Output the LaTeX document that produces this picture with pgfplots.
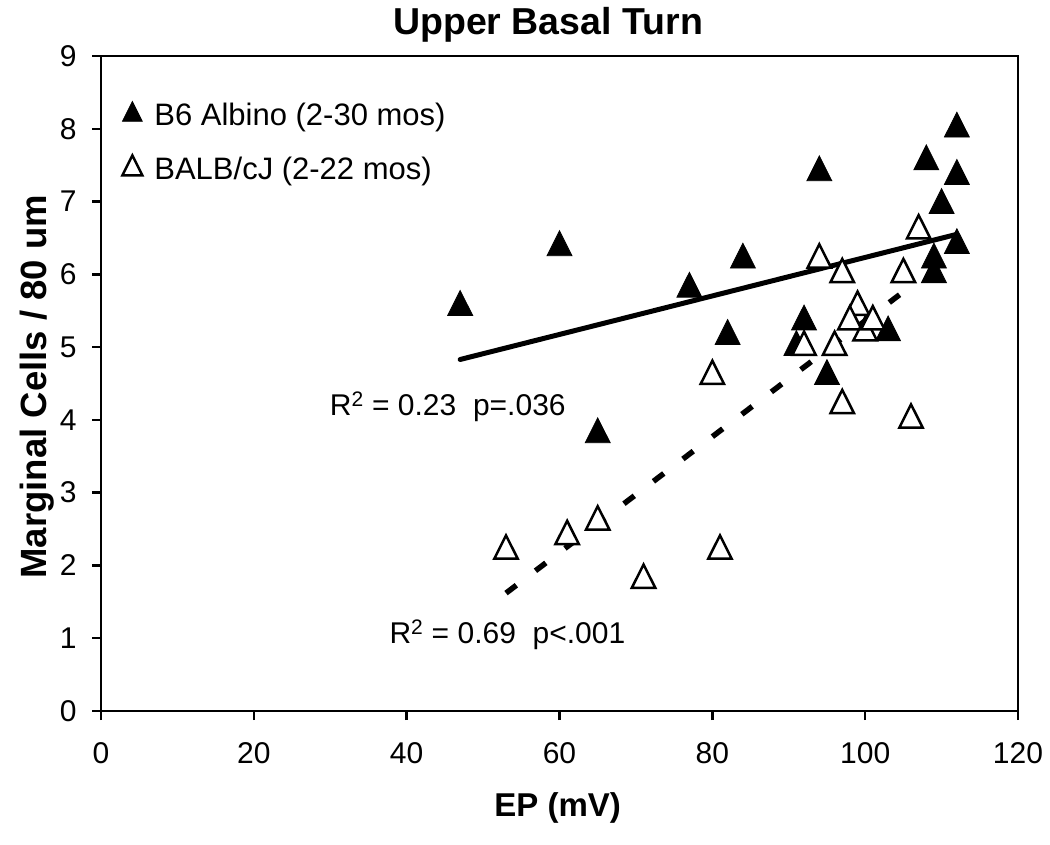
\documentclass[border=0pt]{standalone}
\usepackage{pgfplots}
\pgfplotsset{compat=1.18}
\usepackage{fontspec}
\setmainfont{Liberation Sans}
\pgfplotstableread{
x y
47 5.55
60 6.37
65 3.8
77 5.8
84 6.2
82 5.15
92 5.35
91 5.0
94 7.4
95 4.6
103 5.2
108 7.55
110 6.95
112 8.0
112 7.35
112 6.4
109 6.2
109 6.0
}\bsix
\pgfplotstableread{
x y
53 2.2
61 2.4
65 2.6
71 1.8
80 4.6
81 2.2
92 5.0
94 6.2
96 5.0
97 6.0
97 4.2
99 5.55
98 5.35
100 5.2
101 5.35
105 6.0
106 4.0
107 6.6
}\balb
\begin{document}
\begin{tikzpicture}
\useasboundingbox (-101pt,-133pt) rectangle (949pt,711pt);
\begin{axis}[
  at={(0pt,0pt)}, anchor=south west,
  scale only axis, width=917pt, height=655pt,
  xmin=0, xmax=120, ymin=0, ymax=9,
  xtick={0,20,...,120}, ytick={0,1,...,9},
  xtick pos=bottom, ytick pos=left,
  tick align=outside, major tick length=9pt,
  major tick style={line width=2.5pt, black},
  axis line style={line width=2.5pt},
  ticklabel style={font=\fontsize{30}{32}\selectfont},
  xticklabel style={yshift=-19pt},
  yticklabel style={xshift=-12pt},
  /pgf/number format/assume math mode=true,
  title={\textbf{Upper Basal Turn}},
  title style={at={(0.4875,1.038)}, anchor=center, font=\fontsize{37.5}{40}\selectfont},
  xlabel={\textbf{EP (mV)}},
  xlabel style={at={(0.498,-0.148)}, anchor=center, font=\fontsize{33}{35}\selectfont},
  ylabel={\textbf{Marginal Cells / 80 um}},
  ylabel style={at={(-0.070,0.495)}, anchor=center, font=\fontsize{36.5}{38}\selectfont},
  legend style={at={(0.022,0.932)}, anchor=north west, draw=none, fill=none,
    font=\fontsize{31}{33}\selectfont, row sep=26pt, inner sep=0pt},
  legend cell align=left,
  legend image code/.code={\draw[#1, mark size=11.5pt] plot coordinates {(0pt,0pt)};
    \path[draw=none, fill=none] (-11pt,-8pt) (20pt,8pt);},
  clip=false,
]
\addplot[only marks, mark=triangle*, mark size=14.4pt, mark options={fill=black, draw=black, line width=0.8pt, yscale=1.15}] table {\bsix};
\addlegendentry{B6 Albino (2-30 mos)}
\addplot[only marks, mark=triangle*, mark size=13.5pt, mark options={fill=white, draw=black, line width=2.5pt, yscale=1.15}] table {\balb};
\addlegendentry{BALB/cJ (2-22 mos)}
\addplot[black, line width=5pt, line cap=round, forget plot] coordinates {(47,4.83) (112,6.55)};
\addplot[black, line width=5.5pt, dash pattern=on 13pt off 24pt, forget plot] coordinates {(53,1.62) (104.5,5.72)};
\node[anchor=west, font=\fontsize{30}{32}\selectfont] at (axis cs:29.5,4.18) {R\textsuperscript{2} = 0.23\ \ p=.036};
\node[anchor=west, font=\fontsize{30}{32}\selectfont] at (axis cs:37.3,1.05) {R\textsuperscript{2} = 0.69\ \ p<.001};
\end{axis}
\end{tikzpicture}
\end{document}
